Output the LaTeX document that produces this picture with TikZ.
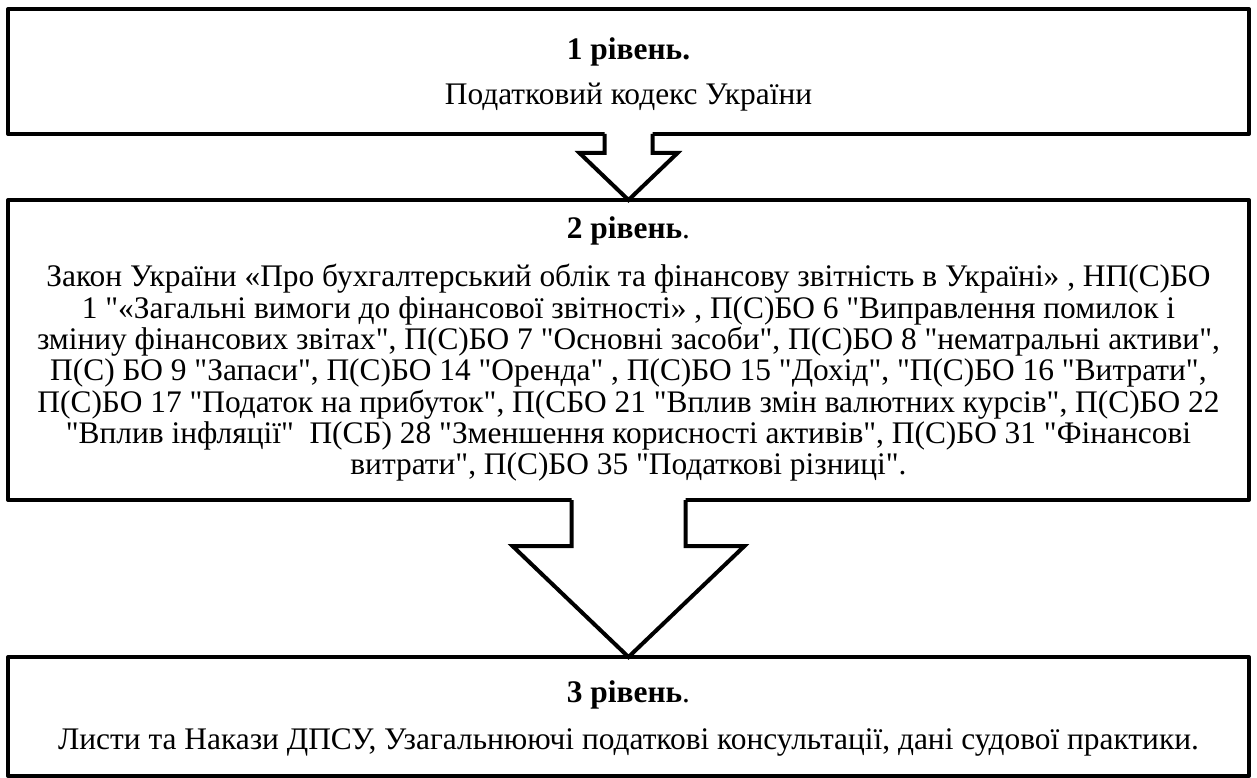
\documentclass[tikz,border=0pt]{standalone}
\usepackage{fontspec}
\setmainfont{Liberation Serif}[Ligatures=TeXOff]
\usetikzlibrary{calc}
\begin{document}
\begin{tikzpicture}[x=1pt,y=-1pt,
  lvbox/.style={draw, line width=4pt, line join=round, rectangle, anchor=north west,
    inner sep=0pt, outer sep=0pt, minimum width=1241pt},
  lvtext/.style={inner sep=0pt, outer sep=0pt, align=center, anchor=center,
    font=\fontsize{31.4}{31.3}\selectfont},
  blockarr/.style={draw=black, line width=4pt, line join=miter},
  blockfill/.style={fill=white}]
\useasboundingbox (0,0) rectangle (1257,778);

\node[lvbox, minimum height=125pt] (b1) at (8,9) {};
\node[lvbox, minimum height=300pt] (b2) at (8,200) {};
\node[lvbox, minimum height=119pt] (b3) at (8,657) {};

\node[lvtext] (t1) at ($(b1.center)+(0,3)$)
  {\textbf{1 рівень.}\\[14pt]
   Податковий кодекс України};

\node[lvtext] (t2) at ($(b2.center)+(0,-1)$)
  {\textbf{2 рівень}.\\[17pt]
   Закон України «Про бухгалтерський облік та фінансову звітність в Україні» , НП(С)БО\\
   1 "«Загальні вимоги до фінансової звітності» , П(С)БО 6 "Виправлення помилок і\\
   зміниу фінансових звітах", П(С)БО 7 "Основні засоби", П(С)БО 8 "нематральні активи",\\
   П(С) БО 9 "Запаси", П(С)БО 14 "Оренда" , П(С)БО 15 "Дохід", "П(С)БО 16 "Витрати",\\
   П(С)БО 17 "Податок на прибуток", П(СБО 21 "Вплив змін валютних курсів", П(С)БО 22\\
   "Вплив інфляції"\ \ П(СБ) 28 "Зменшення корисності активів", П(С)БО 31 "Фінансові\\
   витрати", П(С)БО 35 "Податкові різниці".};

\node[lvtext] (t3) at ($(b3.center)+(0,2)$)
  {\textbf{3 рівень}.\\[15pt]
   Листи та Накази ДПСУ, Узагальнюючі податкові консультації, дані судової практики.};

% arrow 1
\fill[blockfill] ($(b1.south)+(-24,-3)$) -- ($(b1.south)+(-24,19)$) -- ($(b1.south)+(-49,19)$)
  -- (b2.north) -- ($(b1.south)+(49,19)$) -- ($(b1.south)+(24,19)$) -- ($(b1.south)+(24,-3)$) -- cycle;
\draw[blockarr] ($(b1.south)+(-24,0)$) -- ($(b1.south)+(-24,19)$) -- ($(b1.south)+(-49,19)$)
  -- (b2.north) -- ($(b1.south)+(49,19)$) -- ($(b1.south)+(24,19)$) -- ($(b1.south)+(24,0)$);

% arrow 2
\fill[blockfill] ($(b2.south)+(-57,-3)$) -- ($(b2.south)+(-57,46)$) -- ($(b2.south)+(-116,46)$)
  -- (b3.north) -- ($(b2.south)+(116,46)$) -- ($(b2.south)+(57,46)$) -- ($(b2.south)+(57,-3)$) -- cycle;
\draw[blockarr] ($(b2.south)+(-57,0)$) -- ($(b2.south)+(-57,46)$) -- ($(b2.south)+(-116,46)$)
  -- (b3.north) -- ($(b2.south)+(116,46)$) -- ($(b2.south)+(57,46)$) -- ($(b2.south)+(57,0)$);
\end{tikzpicture}
\end{document}
